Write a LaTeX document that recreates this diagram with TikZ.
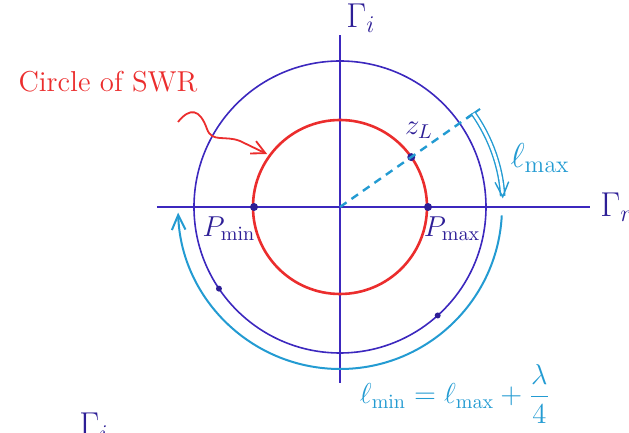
\documentclass[tikz,border=0pt]{standalone}
\usepackage{xcolor}
\usepackage{amsmath}
\usepackage{tikz}
\usetikzlibrary{arrows.meta, positioning, calc}
\definecolor{AxisBlue}{RGB}{60,40,190}
\definecolor{SwrRed}{RGB}{235,45,45}
\definecolor{ArcCyan}{RGB}{35,155,210}
\definecolor{InkBlue}{RGB}{45,30,150}

\begin{document}
\begin{tikzpicture}[
  x=0.5pt, y=0.5pt,
  axis/.style={draw=AxisBlue, line width=0.8pt},
  inklabel/.style={text=InkBlue, font=\LARGE, inner sep=1pt},
  dot/.style={circle, fill=InkBlue, inner sep=0pt, minimum size=4pt},
  arcarrow/.style={draw=ArcCyan, line width=1pt, -{Straight Barb[length=2.6mm, width=2.4mm]}}
]
\useasboundingbox (-340,-226) rectangle (289,207);
\coordinate (O) at (0,0);

% axes and outer circle
\draw[axis] (-183,0) coordinate (west) -- (250,0) coordinate (east);
\draw[axis] (0,-176) coordinate (south) -- (0,172) coordinate (north);
\draw[axis] (O) circle[radius=146];
\node[inklabel, right=2pt of north, anchor=south west] (gi) {$\Gamma_i$};
\node[inklabel, right=4pt of east, anchor=west] (gr) {$\Gamma_r$};

% circle of SWR
\draw[SwrRed, line width=1.3pt] (O) circle[radius=87];
\node[dot] (pmin) at (-86,0) {};
\node[dot] (pmax) at (88,0) {};
\node[dot] (zl) at (35:87) {};
\node[inklabel, font=\Large] (pminlabel) at (-111,-22) {$P_{\min}$};
\node[inklabel, font=\Large] (pmaxlabel) at (112,-22) {$P_{\max}$};
\node[inklabel, font=\Large] (zllabel) at (79,77) {$z_L$};
\node[dot, minimum size=3pt] (mark1) at (-146:146) {};
\node[dot, minimum size=3pt] (mark2) at (-48:146) {};

\node[SwrRed, font=\Large] (swr) at (-232,125) {Circle of SWR};
\coordinate (swrstart) at (-162,85);
\coordinate (swrtip) at (144:90);
\draw[SwrRed, line width=0.9pt, -{Straight Barb[length=2.4mm, width=2.4mm]}]
  (swrstart) .. controls (-150,100) and (-140,98) .. (-133,78)
  .. controls (-128,64) and (-115,72) .. (-100,66) -- (swrtip);

% rotation towards generator
\coordinate (lmaxstart) at (35:163);
\draw[ArcCyan, dash pattern=on 4pt off 3pt, line width=1.2pt] (O) -- (lmaxstart);
\draw[ArcCyan, line width=1pt] (35:155) -- (35:171);
\draw[arcarrow, double=white, double distance=1.4pt, line width=0.7pt]
  (lmaxstart) arc[start angle=35, end angle=3, radius=163];
\node[text=ArcCyan, font=\LARGE] (lmax) at (200,49) {$\ell_{\max}$};

\coordinate (lminstart) at (-3:162);
\draw[arcarrow] (lminstart) arc[start angle=-3, end angle=-178, radius=162];
\node[text=ArcCyan, font=\Large] (lmin) at (115,-187)
  {$\ell_{\min} = \ell_{\max} + \dfrac{\lambda}{4}$};

\node[inklabel, anchor=north west] (gicut) at (-263,-203) {$\Gamma_i$};
\end{tikzpicture}
\end{document}
